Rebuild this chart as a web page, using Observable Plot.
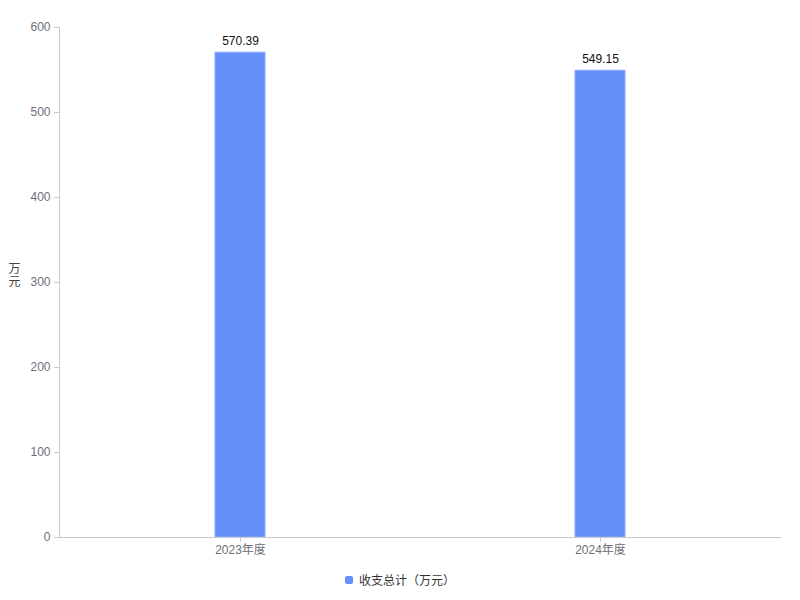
<!DOCTYPE html>
<html>
<head>
<meta charset="utf-8">
<script src="https://cdn.jsdelivr.net/npm/d3@7"></script>
<script src="https://cdn.jsdelivr.net/npm/@observablehq/plot@0.6"></script>
<style>
  body { margin: 0; background: #fff; font-family: "Liberation Sans", Arial, "Noto Sans CJK SC", sans-serif; }
  #chart { width: 800px; }
  .legend { display: flex; justify-content: center; align-items: center; gap: 6px; font-size: 12px; color: #333; margin-top: 11px; }
  .sw { width: 8px; height: 8px; border-radius: 2px; background: #6690f9; display: inline-block; }
</style>
</head>
<body>
<div id="chart"></div>
<script>
const categories = ["2023年度", "2024年度"];
const values = [570.39, 549.15];
const yTicks = [0, 100, 200, 300, 400, 500, 600];
const seriesName = "收支总计（万元）";
const yUnit = "万\n元";

const data = categories.map((c, i) => ({ category: c, value: values[i] }));
const axisColor = "#6e7079";
const font = '"Liberation Sans", Arial, "Noto Sans CJK SC", sans-serif';

const chart = Plot.plot({
  width: 800,
  height: 560,
  marginTop: 27,
  marginLeft: 59,
  marginRight: 20,
  marginBottom: 23,
  style: { fontFamily: font, fontSize: "12px", background: "#fff" },
  x: { type: "band", domain: categories, paddingInner: 0, paddingOuter: 0 },
  y: { domain: [0, 600] },
  marks: [
    Plot.barY(data, { x: "category", y: "value", fill: "#6690f9", stroke: "#8aaafc", strokeWidth: 1, insetLeft: 155, insetRight: 155 }),
    Plot.text(data, { x: "category", y: "value", text: d => d.value.toFixed(2), dy: -12, fill: "#111", fontSize: 12 }),
    Plot.frame({ anchor: "left", stroke: "#c8c8c8" }),
    Plot.frame({ anchor: "bottom", stroke: "#c8c8c8" }),
    Plot.axisY({ ticks: yTicks, tickSize: 5, tickPadding: 4, stroke: "#c8c8c8", color: axisColor, label: null, fontSize: 12 }),
    Plot.axisX({ tickSize: 5, tickPadding: 3, stroke: "#c8c8c8", color: axisColor, label: null, fontSize: 12 }),
    Plot.text([yUnit], { frameAnchor: "left", dx: -51, dy: -7, fill: "#444", fontSize: 12, lineHeight: 1.1 })
  ]
});
document.getElementById("chart").appendChild(chart);
const leg = document.createElement("div");
leg.className = "legend";
leg.innerHTML = `<span class="sw"></span><span>${seriesName}</span>`;
document.getElementById("chart").appendChild(leg);
</script>
</body>
</html>
